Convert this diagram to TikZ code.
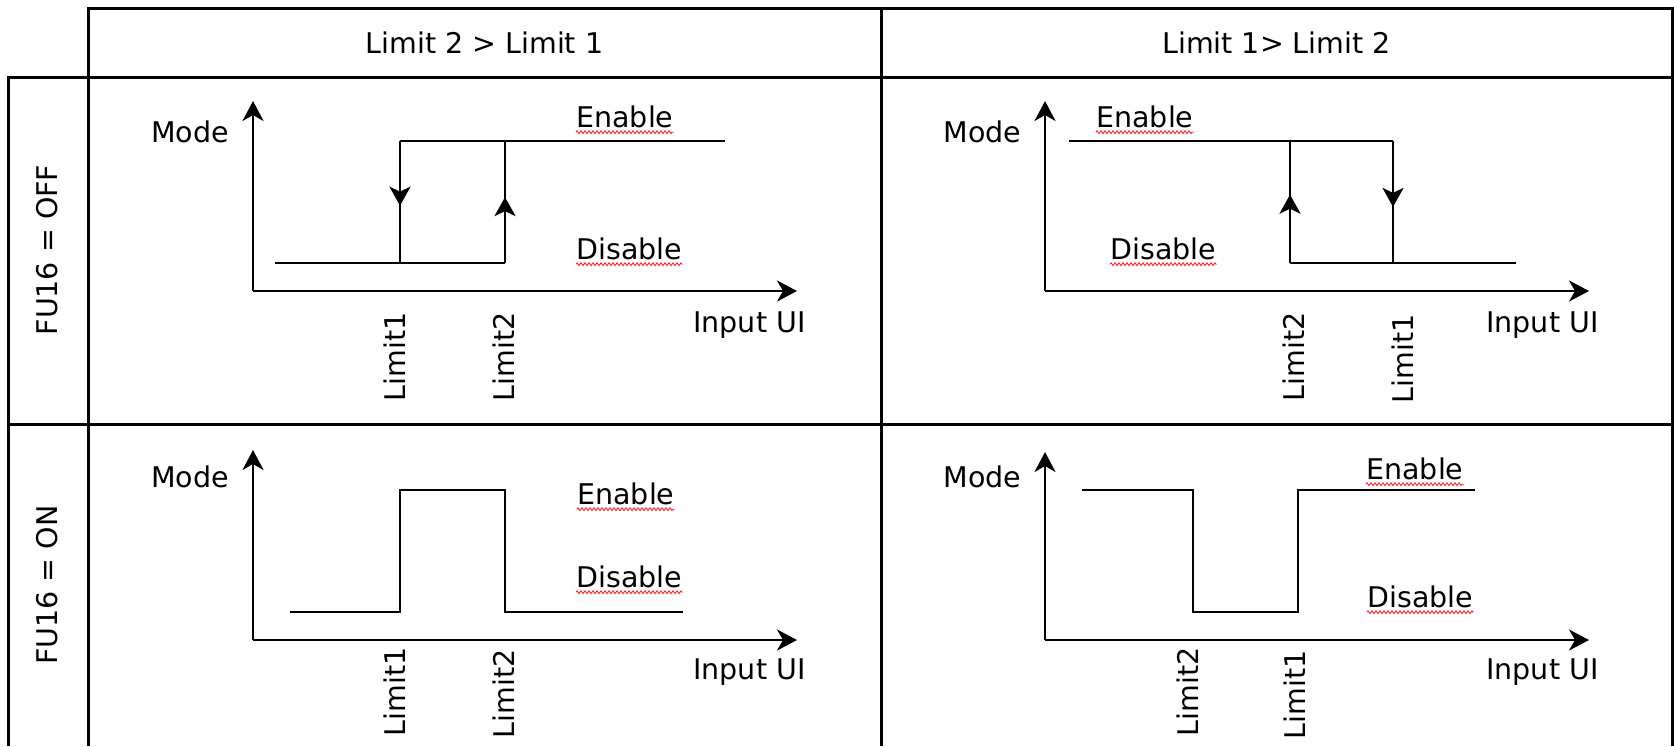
\documentclass[tikz,border=0pt]{standalone}
\usepackage{fontspec}
\setmainfont{DejaVu Sans}
\usetikzlibrary{arrows.meta,decorations.markings,decorations.pathmorphing}
\begin{document}
\begin{tikzpicture}[x=0.5pt,y=-0.5pt,
  gridline/.style={line width=1.5pt},
  axis/.style={line width=1.2pt,-{Stealth[length=10pt,width=10.5pt,inset=3pt]}},
  curve/.style={line width=1.2pt},
  txt/.style={font=\fontsize{14.25}{17}\selectfont,inner sep=0pt},
  lbl/.style={txt,anchor=base west},
  vlbl/.style={txt,rotate=90,anchor=center},
  squig/.style={red!85!white,line width=0.45pt,decorate,decoration={zigzag,segment length=2pt,amplitude=0.7pt}},
  midarrow/.style={postaction={decorate,decoration={markings,mark=at position #1 with {\arrow{Stealth[length=9.5pt,width=10.5pt,inset=2.5pt]}}}}}
]
\fill[white] (0,0) rectangle (1674,746);
\useasboundingbox (0,0) rectangle (1674,746);

% table
\draw[gridline] (88,746) -- (88,8) -- (1672,8) -- (1672,746);
\draw[gridline] (881,8) -- (881,746);
\draw[gridline] (8,746) -- (8,77) -- (1672,77);
\draw[gridline] (8,424) -- (1672,424);

\node[txt] (h1) at (484.5,42.5) {Limit 2 > Limit 1};
\node[txt] (h2) at (1276.5,42.5) {Limit 1> Limit 2};
\node[vlbl] (r1) at (47,250) {FU16 = OFF};
\node[vlbl] (r2) at (47,585) {FU16 = ON};

% ===== cell 1,1 =====
\draw[axis] (253,291) -- (797,291);
\draw[axis] (253,291) -- (253,101);
\node[lbl] (m11) at (151,142) {Mode};
\node[lbl] (i11) at (693,332) {Input UI};
\node[lbl] (e11) at (576,127) {Enable};
\node[lbl] (d11) at (576,259) {Disable};
\draw[curve] (275,263) -- (505,263);
\draw[curve] (400,141) -- (725,141);
\draw[curve,midarrow=0.53] (400,141) -- (400,263);
\draw[curve,midarrow=0.54] (505,263) -- (505,141);
\node[vlbl] (a11) at (395,357) {Limit1};
\node[vlbl] (b11) at (504,357) {Limit2};

% ===== cell 1,2 =====
\draw[axis] (1045,291) -- (1589,291);
\draw[axis] (1045,291) -- (1045,101);
\node[lbl] (m12) at (943,142) {Mode};
\node[lbl] (i12) at (1486,332) {Input UI};
\node[lbl] (e12) at (1096,127) {Enable};
\node[lbl] (d12) at (1110,259) {Disable};
\draw[curve] (1069,141) -- (1393,141);
\draw[curve] (1290,263) -- (1516,263);
\draw[curve,midarrow=0.56] (1290,263) -- (1290,141);
\draw[curve,midarrow=0.54] (1393,141) -- (1393,263);
\node[vlbl] (b12) at (1294,357) {Limit2};
\node[vlbl] (a12) at (1403,359) {Limit1};

% ===== cell 2,1 =====
\draw[axis] (253,640) -- (797,640);
\draw[axis] (253,640) -- (253,450);
\node[lbl] (m21) at (151,487) {Mode};
\node[lbl] (i21) at (693,679) {Input UI};
\node[lbl] (e21) at (577,504) {Enable};
\node[lbl] (d21) at (576,587) {Disable};
\draw[curve] (290,612) -- (400,612) -- (400,490) -- (505,490) -- (505,612) -- (683,612);
\node[vlbl] (a21) at (395,692) {Limit1};
\node[vlbl] (b21) at (504,694) {Limit2};

% ===== cell 2,2 =====
\draw[axis] (1045,640) -- (1589,640);
\draw[axis] (1045,640) -- (1045,452);
\node[lbl] (m22) at (943,487) {Mode};
\node[lbl] (i22) at (1486,679) {Input UI};
\node[lbl] (e22) at (1366,479) {Enable};
\node[lbl] (d22) at (1367,607) {Disable};
\draw[curve] (1082,490) -- (1193,490) -- (1193,612) -- (1298,612) -- (1298,490) -- (1475,490);
\node[vlbl] (b22) at (1188,692) {Limit2};
\node[vlbl] (a22) at (1295,695) {Limit1};

% spell-check squiggles
\foreach \n in {e11,d11,e12,d12,e21,d21,e22,d22}
  \draw[squig] ([yshift=-2.6pt]\n.base west) -- ([yshift=-2.6pt]\n.base east);
\end{tikzpicture}
\end{document}
